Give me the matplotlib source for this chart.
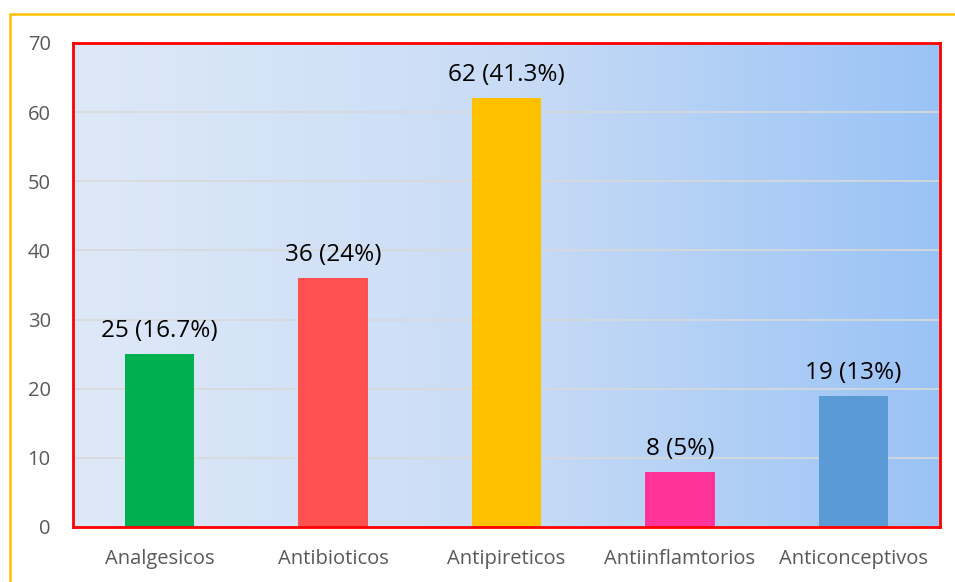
import matplotlib
matplotlib.use("Agg")
import matplotlib.pyplot as plt
import numpy as np
from matplotlib.patches import Rectangle
from matplotlib.colors import LinearSegmentedColormap

categories = ["Analgesicos", "Antibioticos", "Antipireticos", "Antiinflamtorios", "Anticonceptivos"]
values = [25, 36, 62, 8, 19]
labels = ["25 (16.7%)", "36 (24%)", "62 (41.3%)", "8 (5%)", "19 (13%)"]
colors = ["#00B050", "#FF5050", "#FFC000", "#FF3399", "#5B9BD5"]
yticks = [0, 10, 20, 30, 40, 50, 60, 70]

plt.rcParams['font.family'] = ['Open Sans', 'DejaVu Sans']

W, H = 955, 582
fig = plt.figure(figsize=(W/100, H/100), dpi=100)
ax = fig.add_axes([73/W, 1-527/H, (940-73)/W, (527-43)/H])

# gradient background
cmap = LinearSegmentedColormap.from_list("bg", ["#DEE9F8", "#C9DCF6", "#9AC3F5"])
grad = np.linspace(0, 1, 256).reshape(1, -1)
ax.imshow(grad, cmap=cmap, aspect='auto', extent=[-0.5, 4.5, 0, 70], zorder=0)

x = np.arange(len(categories))
ax.bar(x, values, width=0.40, color=colors, zorder=3)
for xi, v, lab in zip(x, values, labels):
    ax.text(xi, v + 1.6, lab, ha='center', va='bottom', fontsize=17.5, color='black', zorder=4)

ax.set_xlim(-0.5, 4.5)
ax.set_ylim(0, 70)
ax.set_yticks(yticks)
ax.set_xticks(x)
ax.set_xticklabels(categories)
ax.tick_params(axis='x', length=0, labelsize=14.5, colors='#595959', pad=16)
ax.tick_params(axis='y', length=0, labelsize=14.5, colors='#595959', pad=16)
ax.yaxis.grid(True, color='#D9D9D9', linewidth=1.2, zorder=1)
ax.set_axisbelow(True)
for s in ax.spines.values():
    s.set_color('#FF0000')
    s.set_linewidth(2)
    s.set_zorder(5)

fig.patches.append(Rectangle((9.5/W, -0.05), 1.1, 1 - 13.5/H + 0.05, transform=fig.transFigure,
                             fill=False, edgecolor='#FFC000', linewidth=1.8, zorder=10))

fig.savefig("out.png", dpi=100)
